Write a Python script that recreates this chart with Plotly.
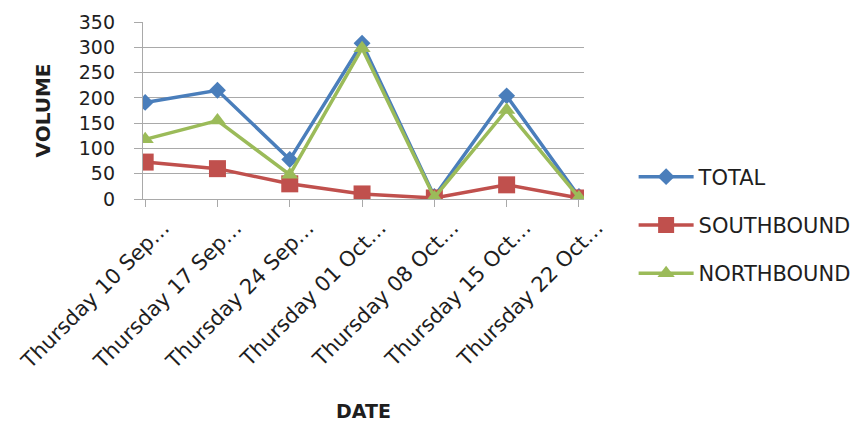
import plotly.graph_objects as go

# Weekly traffic counts
dates = [
    "Thursday 10 Sep…", "Thursday 17 Sep…", "Thursday 24 Sep…",
    "Thursday 01 Oct…", "Thursday 08 Oct…", "Thursday 15 Oct…",
    "Thursday 22 Oct…",
]
total = [191, 215, 78, 308, 5, 204, 5]
southbound = [73, 60, 30, 10, 2, 28, 2]
northbound = [118, 155, 48, 298, 3, 176, 3]

FONT = "DejaVu Sans"
GRID = "#a9a9a9"
TEXT = "#1e1e1e"

series = [
    ("TOTAL", total, "#4a7ebb", "diamond", 13),
    ("SOUTHBOUND", southbound, "#c0504d", "square", 17),
    ("NORTHBOUND", northbound, "#9bbb59", "triangle-up", 15),
]

fig = go.Figure()
for name, vals, color, sym, size in series:
    fig.add_trace(go.Scatter(
        x=list(range(len(dates))), y=vals, name=name,
        mode="lines+markers",
        line=dict(color=color, width=3.5),
        marker=dict(symbol=sym, size=size, color=color),
        legendgroup=name,
    ))

fig.update_layout(
    width=867, height=422,
    margin=dict(l=143, r=282, t=22, b=223),
    paper_bgcolor="white", plot_bgcolor="white",
    font=dict(family=FONT, color=TEXT),
    showlegend=True,
    legend=dict(
        x=1.11, y=0.24, xanchor="left", yanchor="top",
        font=dict(family=FONT, size=21, color=TEXT),
        itemwidth=55, tracegroupgap=18,
        bgcolor="rgba(0,0,0,0)",
    ),
)

fig.update_xaxes(
    range=[-0.03, 6.07], automargin=False,
    tickmode="array", tickvals=list(range(len(dates))), ticktext=dates,
    tickangle=-45, tickfont=dict(family=FONT, size=21, color=TEXT),
    ticks="outside", ticklen=7, tickcolor=GRID,
    ticklabelshift=18,
    showline=True, linecolor=GRID, linewidth=1.3,
    showgrid=False, zeroline=False,
    title=dict(text="<b>DATE</b>", font=dict(family=FONT, size=19, color=TEXT),
               standoff=34),
)

fig.update_yaxes(
    range=[0, 350], dtick=50, automargin=False,
    tickfont=dict(family=FONT, size=19, color=TEXT),
    ticks="outside", ticklen=8, tickcolor=GRID,
    ticklabelstandoff=15,
    showline=True, linecolor=GRID, linewidth=1.3,
    showgrid=True, gridcolor=GRID, gridwidth=1.3,
    zeroline=False,
    title=dict(text="<b>VOLUME</b>", font=dict(family=FONT, size=20, color=TEXT),
               standoff=22),
)

fig.write_html("out.html")
